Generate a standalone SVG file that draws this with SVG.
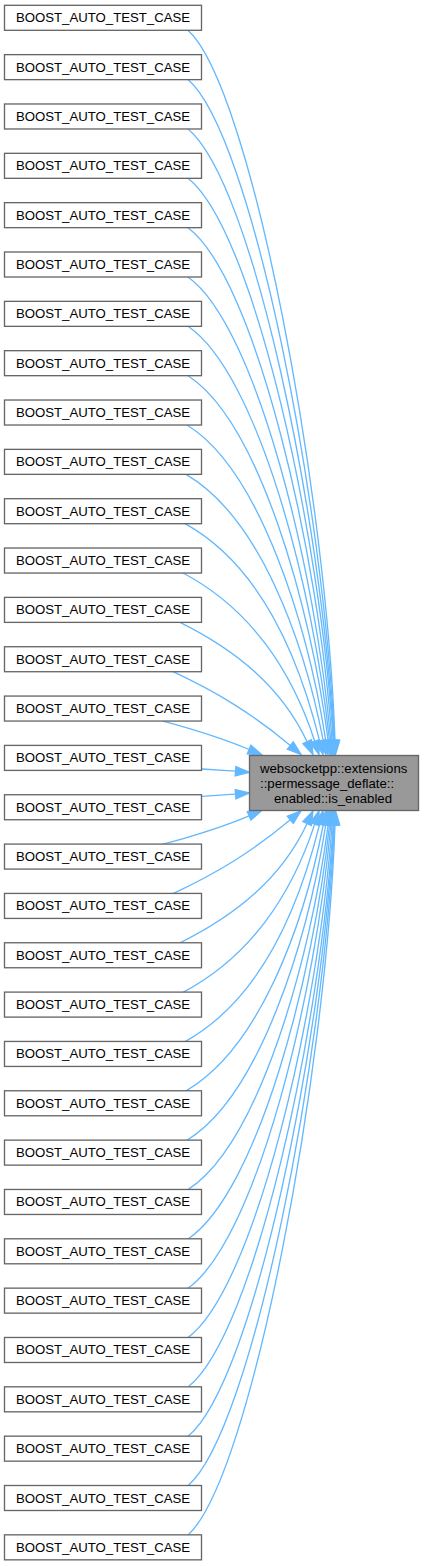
<svg xmlns="http://www.w3.org/2000/svg" width="424" height="1566" viewBox="0 0 424 1566">
<style>
.node rect{fill:#ffffff;stroke:#666666;stroke-width:1.33}
#target rect{fill:#999999;stroke:#666666;stroke-width:1.33}
text{font-family:"Liberation Sans",Arial,Helvetica,sans-serif;font-size:13.2px;fill:#000000}
.c{text-anchor:middle}
#edges path{fill:none;stroke:#63b8ff;stroke-width:1.33}
#edges polygon{fill:#63b8ff;stroke:#63b8ff;stroke-width:1.33}
</style>
<rect width="424" height="1566" fill="#ffffff"/>
<g id="edges">
<path d="M188,30.3 C251.2,87.2 326.4,492.7 335,740.5"/><polygon points="339.7,740.4 335.5,754.5 330.3,740.7"/>
<path d="M188,79.6 C252.4,135 324.3,509.3 334.4,740.5"/><polygon points="339.1,740.3 335,754.5 329.7,740.7"/>
<path d="M188,129 C253.7,183 322.5,525.8 333.8,740.5"/><polygon points="338.4,740.3 334.5,754.5 329.1,740.8"/>
<path d="M188,178.3 C254.9,230.7 321,542.2 333.2,740.5"/><polygon points="337.8,740.3 334,754.5 328.5,740.8"/>
<path d="M188,227.7 C256.1,278.6 319.3,558.6 332,740.5"/><polygon points="336.7,740.2 333,754.5 327.4,740.9"/>
<path d="M188,277 C257.2,326.4 316.3,575 330.8,740.6"/><polygon points="335.4,740.1 332,754.5 326.1,741"/>
<path d="M188,326.3 C258.3,374.1 313.8,591.2 329.5,740.6"/><polygon points="334.2,740.1 331,754.5 324.9,741.1"/>
<path d="M188,375.7 C259.4,421.9 310.6,607.5 328.2,740.6"/><polygon points="332.8,740 330,754.5 323.5,741.2"/>
<path d="M187,425 C259.4,469.5 307.3,623.5 325.8,740.7"/><polygon points="330.4,739.9 328,754.5 321.2,741.4"/>
<path d="M186,474.4 C259.4,517.3 303.6,639.4 323.3,740.8"/><polygon points="327.9,739.9 326,754.5 318.8,741.7"/>
<path d="M185,523.7 C259.4,564.9 298.3,655.3 319.6,740.9"/><polygon points="324.1,739.8 323,754.5 315.1,742.1"/>
<path d="M183,573 C250.3,608.4 291.8,670.8 314.7,741.2"/><polygon points="319.1,739.8 319,754.5 310.2,742.6"/>
<path d="M180,622.4 C235.9,650.2 281.5,686.9 307.1,741.8"/><polygon points="311.3,739.8 313,754.5 302.9,743.8"/>
<path d="M173,671.7 C218.2,692.8 253.1,714.3 290.3,745.5"/><polygon points="293.3,741.9 301,754.5 287.3,749.1"/>
<path d="M163,721.1 C196.8,730.2 221.5,737.8 249.1,749.5"/><polygon points="250.9,745.2 262,755 247.3,753.8"/>
<path d="M202,769 C215,769.8 225,770.5 235.5,771.2"/><polygon points="235.9,766.5 249.5,772.3 235.2,775.8"/>
<path d="M202,796.3 C215,795.5 225,794.8 235.5,794.1"/><polygon points="235.9,798.8 249.5,793 235.2,789.5"/>
<path d="M163,844.2 C196.8,835.1 221.5,827.5 249.1,815.8"/><polygon points="250.9,820.1 262,810.3 247.3,811.5"/>
<path d="M173,893.6 C218.2,872.5 253.1,851 290.3,819.8"/><polygon points="293.3,823.4 301,810.8 287.3,816.2"/>
<path d="M180,942.9 C235.9,915.1 281.5,878.4 307.1,823.5"/><polygon points="311.3,825.5 313,810.8 302.9,821.5"/>
<path d="M183,992.3 C250.3,956.9 291.8,894.5 314.7,824.1"/><polygon points="319.1,825.5 319,810.8 310.2,822.7"/>
<path d="M185,1041.6 C259.4,1000.4 298.3,910 319.6,824.4"/><polygon points="324.1,825.5 323,810.8 315.1,823.2"/>
<path d="M186,1090.9 C259.4,1048 303.6,925.9 323.3,824.5"/><polygon points="327.9,825.4 326,810.8 318.8,823.6"/>
<path d="M187,1140.3 C259.4,1095.8 307.3,941.8 325.8,824.6"/><polygon points="330.4,825.4 328,810.8 321.2,823.9"/>
<path d="M188,1189.6 C259.4,1143.4 310.6,957.8 328.2,824.7"/><polygon points="332.8,825.3 330,810.8 323.5,824.1"/>
<path d="M188,1239 C258.3,1191.2 313.8,974.1 329.5,824.7"/><polygon points="334.2,825.2 331,810.8 324.9,824.2"/>
<path d="M188,1288.3 C257.2,1238.9 316.3,990.3 330.8,824.7"/><polygon points="335.4,825.2 332,810.8 326.1,824.3"/>
<path d="M188,1337.6 C256.1,1286.7 319.3,1006.7 332,824.8"/><polygon points="336.7,825.1 333,810.8 327.4,824.4"/>
<path d="M188,1387 C254.9,1334.6 321,1023.1 333.2,824.8"/><polygon points="337.8,825 334,810.8 328.5,824.5"/>
<path d="M188,1436.3 C253.7,1382.3 322.5,1039.5 333.8,824.8"/><polygon points="338.4,825 334.5,810.8 329.1,824.5"/>
<path d="M188,1485.7 C252.4,1430.3 324.3,1056 334.4,824.8"/><polygon points="339.1,825 335,810.8 329.7,824.6"/>
<path d="M188,1535 C251.2,1478.1 326.4,1072.6 335,824.8"/><polygon points="339.7,824.9 335.5,810.8 330.3,824.6"/>
</g>
<g id="target"><rect x="249.5" y="755.5" width="169" height="55"/>
<text x="260" y="773.3">websocketpp::extensions</text>
<text x="260" y="788">::permessage_deflate::</text>
<text class="c" x="333" y="802.6">enabled::is_enabled</text></g>
<g id="n0" class="node"><rect x="4.5" y="5.3" width="197" height="25"/><text class="c" x="103" y="22.3">BOOST_AUTO_TEST_CASE</text></g>
<g id="n1" class="node"><rect x="4.5" y="54.64" width="197" height="25"/><text class="c" x="103" y="71.64">BOOST_AUTO_TEST_CASE</text></g>
<g id="n2" class="node"><rect x="4.5" y="103.98" width="197" height="25"/><text class="c" x="103" y="120.98">BOOST_AUTO_TEST_CASE</text></g>
<g id="n3" class="node"><rect x="4.5" y="153.32" width="197" height="25"/><text class="c" x="103" y="170.32">BOOST_AUTO_TEST_CASE</text></g>
<g id="n4" class="node"><rect x="4.5" y="202.66" width="197" height="25"/><text class="c" x="103" y="219.66">BOOST_AUTO_TEST_CASE</text></g>
<g id="n5" class="node"><rect x="4.5" y="252" width="197" height="25"/><text class="c" x="103" y="269">BOOST_AUTO_TEST_CASE</text></g>
<g id="n6" class="node"><rect x="4.5" y="301.34" width="197" height="25"/><text class="c" x="103" y="318.34">BOOST_AUTO_TEST_CASE</text></g>
<g id="n7" class="node"><rect x="4.5" y="350.68" width="197" height="25"/><text class="c" x="103" y="367.68">BOOST_AUTO_TEST_CASE</text></g>
<g id="n8" class="node"><rect x="4.5" y="400.02" width="197" height="25"/><text class="c" x="103" y="417.02">BOOST_AUTO_TEST_CASE</text></g>
<g id="n9" class="node"><rect x="4.5" y="449.36" width="197" height="25"/><text class="c" x="103" y="466.36">BOOST_AUTO_TEST_CASE</text></g>
<g id="n10" class="node"><rect x="4.5" y="498.7" width="197" height="25"/><text class="c" x="103" y="515.7">BOOST_AUTO_TEST_CASE</text></g>
<g id="n11" class="node"><rect x="4.5" y="548.04" width="197" height="25"/><text class="c" x="103" y="565.04">BOOST_AUTO_TEST_CASE</text></g>
<g id="n12" class="node"><rect x="4.5" y="597.38" width="197" height="25"/><text class="c" x="103" y="614.38">BOOST_AUTO_TEST_CASE</text></g>
<g id="n13" class="node"><rect x="4.5" y="646.72" width="197" height="25"/><text class="c" x="103" y="663.72">BOOST_AUTO_TEST_CASE</text></g>
<g id="n14" class="node"><rect x="4.5" y="696.06" width="197" height="25"/><text class="c" x="103" y="713.06">BOOST_AUTO_TEST_CASE</text></g>
<g id="n15" class="node"><rect x="4.5" y="745.4" width="197" height="25"/><text class="c" x="103" y="762.4">BOOST_AUTO_TEST_CASE</text></g>
<g id="n16" class="node"><rect x="4.5" y="794.74" width="197" height="25"/><text class="c" x="103" y="811.74">BOOST_AUTO_TEST_CASE</text></g>
<g id="n17" class="node"><rect x="4.5" y="844.08" width="197" height="25"/><text class="c" x="103" y="861.08">BOOST_AUTO_TEST_CASE</text></g>
<g id="n18" class="node"><rect x="4.5" y="893.42" width="197" height="25"/><text class="c" x="103" y="910.42">BOOST_AUTO_TEST_CASE</text></g>
<g id="n19" class="node"><rect x="4.5" y="942.76" width="197" height="25"/><text class="c" x="103" y="959.76">BOOST_AUTO_TEST_CASE</text></g>
<g id="n20" class="node"><rect x="4.5" y="992.1" width="197" height="25"/><text class="c" x="103" y="1009.1">BOOST_AUTO_TEST_CASE</text></g>
<g id="n21" class="node"><rect x="4.5" y="1041.44" width="197" height="25"/><text class="c" x="103" y="1058.44">BOOST_AUTO_TEST_CASE</text></g>
<g id="n22" class="node"><rect x="4.5" y="1090.78" width="197" height="25"/><text class="c" x="103" y="1107.78">BOOST_AUTO_TEST_CASE</text></g>
<g id="n23" class="node"><rect x="4.5" y="1140.12" width="197" height="25"/><text class="c" x="103" y="1157.12">BOOST_AUTO_TEST_CASE</text></g>
<g id="n24" class="node"><rect x="4.5" y="1189.46" width="197" height="25"/><text class="c" x="103" y="1206.46">BOOST_AUTO_TEST_CASE</text></g>
<g id="n25" class="node"><rect x="4.5" y="1238.8" width="197" height="25"/><text class="c" x="103" y="1255.8">BOOST_AUTO_TEST_CASE</text></g>
<g id="n26" class="node"><rect x="4.5" y="1288.14" width="197" height="25"/><text class="c" x="103" y="1305.14">BOOST_AUTO_TEST_CASE</text></g>
<g id="n27" class="node"><rect x="4.5" y="1337.48" width="197" height="25"/><text class="c" x="103" y="1354.48">BOOST_AUTO_TEST_CASE</text></g>
<g id="n28" class="node"><rect x="4.5" y="1386.82" width="197" height="25"/><text class="c" x="103" y="1403.82">BOOST_AUTO_TEST_CASE</text></g>
<g id="n29" class="node"><rect x="4.5" y="1436.16" width="197" height="25"/><text class="c" x="103" y="1453.16">BOOST_AUTO_TEST_CASE</text></g>
<g id="n30" class="node"><rect x="4.5" y="1485.5" width="197" height="25"/><text class="c" x="103" y="1502.5">BOOST_AUTO_TEST_CASE</text></g>
<g id="n31" class="node"><rect x="4.5" y="1534.84" width="197" height="25"/><text class="c" x="103" y="1551.84">BOOST_AUTO_TEST_CASE</text></g>
</svg>
